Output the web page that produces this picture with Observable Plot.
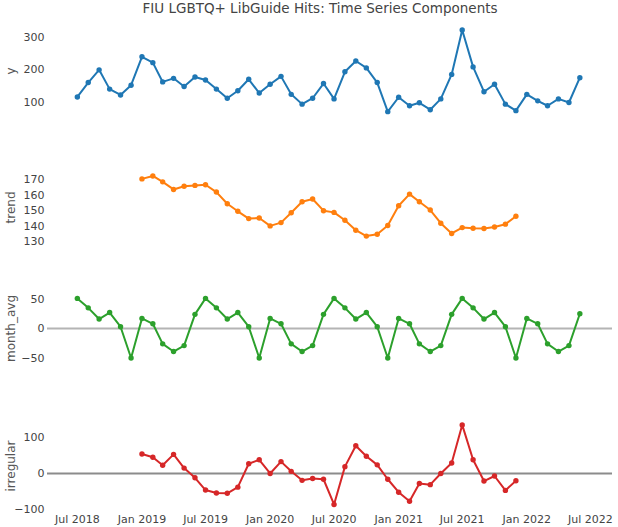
<!DOCTYPE html>
<html>
<head>
<meta charset="utf-8">
<script src="https://cdn.jsdelivr.net/npm/d3@7"></script>
<script src="https://cdn.jsdelivr.net/npm/@observablehq/plot@0.6"></script>
<style>
  html, body { margin: 0; padding: 0; background: #fff; }
  #chart { position: relative; width: 618px; height: 527px; overflow: hidden; font-family: "DejaVu Sans", Verdana, sans-serif; }
  #title { position: absolute; top: 0px; left: 0; width: 640px; text-align: center; font-size: 13.5px; line-height: 16px; color: #444; }
  #chart svg { position: absolute; left: 0; }
</style>
</head>
<body>
<div id="chart"><div id="title">FIU LGBTQ+ LibGuide Hits: Time Series Components</div></div>
<script>
// ---- data (monthly) ----
const firstMonth = "2018-07-01";   // y and month_avg start
const componentStart = "2019-01-01"; // trend and irregular start
const yValues = [117, 161, 200, 141, 123, 153, 240, 222, 163, 174, 149, 178,
  169, 141, 113, 136, 171, 129, 156, 180, 125, 95, 113, 158,
  111, 194, 227, 206, 161, 72, 116, 90, 99, 78, 111, 186,
  322, 209, 133, 156, 95, 75, 125, 105, 90, 111, 100, 176];
const trendValues = [170.4, 172.3, 168.5, 163.6, 165.7, 166.2, 166.6, 161.9, 154.4, 149.5, 144.8, 145.2,
  140.1, 142.2, 148.6, 155.7, 157.4, 149.9, 148.8, 143.7, 137.3, 133.5, 134.7, 140.3,
  153.1, 160.6, 155.7, 150.3, 141.8, 135.2, 139.0, 138.6, 138.4, 139.4, 141.2, 146.3];
const monthAvgValues = [51, 35, 16, 27, 3, -50, 17, 8, -26, -39, -29, 24,
  51, 35, 16, 27, 3, -50, 17, 8, -26, -39, -29, 24,
  51, 35, 16, 27, 3, -50, 17, 8, -26, -39, -29, 24,
  51, 35, 16, 27, 3, -50, 17, 8, -26, -39, -29, 25];
const irregularValues = [54, 45, 23, 53, 15, -12, -46, -54, -55, -38, 27, 38,
  0, 33, 6, -19, -14, -16, -86, 19, 77, 48, 24, -16,
  -52, -77, -28, -31, 0, 29, 135, 38, -21, -7, -47, -20];
const xTickLabels = ["Jul 2018", "Jan 2019", "Jul 2019", "Jan 2020", "Jul 2020", "Jan 2021", "Jul 2021", "Jan 2022", "Jul 2022"];
const yTicks = {y: [100, 200, 300], trend: [130, 140, 150, 160, 170], month_avg: [-50, 0, 50], irregular: [-100, 0, 100]};

function series(start, values) {
  const s = new Date(start + "T00:00:00Z");
  return values.map((v, i) => ({date: d3.utcMonth.offset(s, i), value: v}));
}
const parseTick = d3.utcParse("%b %Y");
const xTicks = xTickLabels.map(parseTick);
const xDomain = [new Date("2018-04-07T00:00:00Z"), new Date("2022-09-02T00:00:00Z")];

const panels = [
  {name: "y", data: series(firstMonth, yValues), color: "#1f77b4", top: 25, bottom: 116, domain: [57.1, 335.8], zero: false},
  {name: "trend", data: series(componentStart, trendValues), color: "#ff7f0e", top: 168, bottom: 246, domain: [126.8, 177.1], zero: false},
  {name: "month_avg", data: series(firstMonth, monthAvgValues), color: "#2ca02c", top: 290, bottom: 366, domain: [-64.4, 64.4], zero: true, zeroColor: "#b4b4b4"},
  {name: "irregular", data: series(componentStart, irregularValues), color: "#d62728", top: 420, bottom: 511, domain: [-105.6, 147.2], zero: true, zeroColor: "#8c8c8c", xaxis: true}
];

const chart = document.getElementById("chart");
const W = 618, mL = 47, mR = 6, mT = 10;
for (const p of panels) {
  const mB = p.xaxis ? 16 : 10;
  const h = (p.bottom - p.top) + mT + mB;
  const marks = [];
  if (p.zero) marks.push(Plot.ruleY([0], {stroke: p.zeroColor, strokeWidth: 2}));
  marks.push(
    Plot.axisY({ticks: yTicks[p.name], tickSize: 0, tickPadding: 3, label: null, fill: "#444", fontSize: 11}),
    Plot.axisY({ticks: [], tickSize: 0, label: p.name, labelAnchor: "center", labelOffset: 41, labelArrow: "none", fill: "#555", fontSize: 12}),
    Plot.line(p.data, {x: "date", y: "value", stroke: p.color, strokeWidth: 2}),
    Plot.dot(p.data, {x: "date", y: "value", fill: p.color, r: 2.7})
  );
  if (p.xaxis) {
    marks.push(Plot.axisX({ticks: xTicks, tickFormat: d3.utcFormat("%b %Y"), tickSize: 0, tickPadding: 4, label: null, fill: "#444", fontSize: 11}));
  }
  const svg = Plot.plot({
    width: W, height: h,
    marginLeft: mL, marginRight: mR, marginTop: mT, marginBottom: mB,
    style: {fontFamily: "DejaVu Sans, Verdana, sans-serif", fontSize: "11px", color: "#444", background: "transparent", overflow: "visible"},
    x: {type: "utc", domain: xDomain, axis: null},
    y: {domain: p.domain, axis: null},
    marks
  });
  svg.style.top = (p.top - mT) + "px";
  chart.appendChild(svg);
}
</script>
</body>
</html>
